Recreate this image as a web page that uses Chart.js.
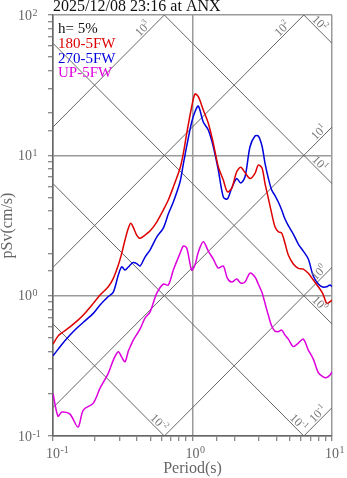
<!DOCTYPE html>
<html>
<head>
<meta charset="utf-8">
<script src="https://cdn.jsdelivr.net/npm/chart.js@4/dist/chart.umd.min.js"></script>
<style>
  html, body { margin: 0; padding: 0; background: #fff; }
  canvas { display: block; }
</style>
</head>
<body>
<canvas id="spectrum" width="347" height="478"></canvas>
<script>
// periods (s) the three spectra were read at
const periods = [0.1, 0.1086, 0.116, 0.1324, 0.1511, 0.1649, 0.1945, 0.2173, 0.249, 0.2706,
  0.2939, 0.3108, 0.3282, 0.3467, 0.3606, 0.3764, 0.398, 0.4205, 0.4566, 0.4958,
  0.5538, 0.6176, 0.6706, 0.7286, 0.8138, 0.8594, 0.9089, 0.9869, 1.042, 1.101,
  1.195, 1.298, 1.41, 1.531, 1.663, 1.777, 1.91, 2.074, 2.216, 2.378,
  2.584, 2.805, 2.963, 3.149, 3.308, 3.494, 3.695, 3.903, 4.122, 4.359,
  4.604, 4.862, 5.281, 5.734, 6.228, 6.764, 7.343, 7.976, 8.576, 9.162,
  9.676, 10];

// pSv (cm/s), h = 5%
const sv180 = [0.452, 0.515, 0.544, 0.600, 0.670, 0.727, 0.881, 1.010, 1.157, 1.328,
  1.653, 2.002, 2.490, 3.017, 3.276, 3.067, 2.704, 2.561, 2.704, 2.887,
  3.346, 4.075, 4.801, 5.944, 8.08, 10.33, 14.35, 22.20, 27.35, 26.17,
  21.03, 16.91, 12.18, 8.29, 6.668, 5.503, 5.818, 7.642, 8.21, 7.542,
  6.833, 7.44, 8.53, 8.12, 6.318, 4.962, 3.861, 3.097, 2.854, 2.794,
  2.360, 1.947, 1.680, 1.565, 1.547, 1.442, 1.292, 1.157, 1.038, 0.881,
  0.905, 0.930];

const sv270 = [0.3728, 0.4143, 0.4503, 0.5238, 0.5972, 0.6462, 0.7477, 0.857, 0.985, 1.061,
  1.402, 1.607, 1.522, 1.599, 1.666, 1.722, 1.694, 1.626, 1.884, 2.113,
  2.617, 3.032, 3.816, 4.646, 6.45, 8.67, 11.65, 17.28, 20.46, 22.46,
  17.28, 15.15, 11.52, 7.86, 5.045, 4.88, 5.847, 6.833, 6.35, 7.004,
  11.52, 13.73, 13.73, 11.65, 8.81, 6.89, 5.657, 5.17, 4.646, 4.075,
  3.516, 3.16, 2.749, 2.332, 2.079, 1.823, 1.379, 1.21, 1.152, 1.157,
  1.19, 1.161];

const svUP = [0.2012, 0.1386, 0.1480, 0.1432, 0.1157, 0.1530, 0.1716, 0.2195, 0.2794, 0.3475,
  0.3982, 0.3650, 0.3380, 0.4028, 0.4408, 0.4826, 0.5281, 0.5781, 0.6923, 0.7640,
  1.038, 1.21, 1.19, 1.522, 2.002, 2.257, 2.184, 1.52, 1.653, 2.046,
  2.422, 2.079, 1.823, 1.573, 1.626, 1.335, 1.250, 1.313, 1.230, 1.250,
  1.449, 1.357, 1.21, 1.052, 0.8858, 0.727, 0.6072, 0.5596, 0.5549, 0.5688,
  0.5238, 0.4906, 0.4337, 0.4594, 0.4906, 0.4096, 0.3532, 0.2831, 0.2651, 0.2608,
  0.2717, 0.2868];

const seriesNames = ["180-5FW", "270-5FW", "UP-5FW"];
const accelLevels = [0.1, 1, 10, 100, 1000];   // gal, rising diagonals
const dispLevels = [0.01, 0.1, 1, 10, 100];    // cm, falling diagonals
const xDecades = [0.1, 1, 10];
const yDecades = [0.1, 1, 10, 100];

const TWO_PI = 2 * Math.PI;
const SERIF = '"Liberation Serif", "Times New Roman", serif';

const toPoints = (vals) => periods.map((t, i) => ({ x: t, y: vals[i] }));
const isDecade = (v) => Math.abs(Math.log10(v) - Math.round(Math.log10(v))) < 1e-6;
const expOf = (v) => String(Math.round(Math.log10(v)));

function curve(label, vals, color) {
  return { label, data: toPoints(vals), borderColor: color, borderWidth: 1.5,
    pointRadius: 0, tension: 0.3, fill: false };
}

function diagonal(points) {
  return { data: points, borderColor: "#666", borderWidth: 1, pointRadius: 0, fill: false };
}

const diagonals = [
  ...accelLevels.map((a) => diagonal([{ x: 0.1, y: a * 0.1 / TWO_PI }, { x: 10, y: a * 10 / TWO_PI }])),
  ...dispLevels.map((d) => diagonal([{ x: 0.1, y: TWO_PI * d / 0.1 }, { x: 10, y: TWO_PI * d / 10 }]))
];

function rotPow(ctx, px, py, angle, exp) {
  ctx.save();
  ctx.translate(px, py);
  ctx.rotate(angle);
  ctx.font = "12px " + SERIF;
  const w1 = ctx.measureText("10").width;
  ctx.font = "8px " + SERIF;
  const w2 = ctx.measureText(exp).width;
  const x0 = -(w1 + w2);
  ctx.font = "12px " + SERIF;
  ctx.fillText("10", x0, -2);
  ctx.font = "8px " + SERIF;
  ctx.fillText(exp, x0 + w1, -7);
  ctx.restore();
}

const textPlugin = {
  id: "texts",
  afterDraw(chart) {
    const ctx = chart.ctx;
    const xs = chart.scales.x, ys = chart.scales.y;
    const px = (t) => xs.getPixelForValue(t), py = (v) => ys.getPixelForValue(v);
    ctx.save();
    ctx.textBaseline = "alphabetic";

    // title and legend
    ctx.fillStyle = "#111";
    ctx.font = "16px " + SERIF;
    ctx.fillText("2025/12/08 23:16 at ANX", 53, 11);
    ctx.font = "15px " + SERIF;
    ctx.fillText("h= 5%", 58, 33);
    chart.data.datasets.slice(0, 3).forEach((ds, i) => {
      ctx.fillStyle = ds.borderColor;
      ctx.fillText(seriesNames[i], 58, 48 + i * 14.7);
    });

    // decade tick labels
    ctx.fillStyle = "#666";
    yDecades.forEach((v) => {
      const y = py(v);
      ctx.font = "14px " + SERIF;
      ctx.fillText("10", 18, y + 4.7);
      const w = ctx.measureText("10").width;
      ctx.font = "10px " + SERIF;
      ctx.fillText(expOf(v), 18 + w + 0.5, y + 0.5);
    });
    xDecades.forEach((t) => {
      const x = px(t);
      ctx.font = "14px " + SERIF;
      const w = ctx.measureText("10").width;
      ctx.fillText("10", x - w / 2, 458);
      ctx.font = "10px " + SERIF;
      ctx.fillText(expOf(t), x + w / 2 + 0.5, 453);
    });

    // axis titles
    ctx.font = "16px " + SERIF;
    ctx.textAlign = "center";
    ctx.fillText("Period(s)", px(1), 473);
    ctx.save();
    ctx.translate(12, (chart.chartArea.top + chart.chartArea.bottom) / 2);
    ctx.rotate(-Math.PI / 2);
    ctx.fillText("pSv(cm/s)", 0, 0);
    ctx.restore();
    ctx.textAlign = "left";

    // diagonal labels
    ctx.fillStyle = "#777";
    accelLevels.forEach((a) => {
      const x1 = px(1), y1 = py(a / TWO_PI), x2 = px(10), y2 = py(a * 10 / TWO_PI);
      const ang = Math.atan2(y2 - y1, x2 - x1);
      const tTop = 100 * TWO_PI / a;
      let ex, ey, back;
      if (tTop <= 10) { ex = px(tTop); ey = py(100); back = 17; }
      else { ex = px(10); ey = py(a * 10 / TWO_PI); back = 5; }
      rotPow(ctx, ex - back * Math.cos(ang), ey - back * Math.sin(ang), ang, expOf(a));
    });
    dispLevels.forEach((d) => {
      const x1 = px(1), y1 = py(TWO_PI * d), x2 = px(10), y2 = py(TWO_PI * d / 10);
      const ang = Math.atan2(y2 - y1, x2 - x1);
      const svRight = TWO_PI * d / 10;
      let ex, ey, back;
      if (svRight >= 0.1) { ex = px(10); ey = py(svRight); back = 15; }
      else { ex = px(TWO_PI * d / 0.1); ey = py(0.1); back = 4; }
      rotPow(ctx, ex - back * Math.cos(ang), ey - back * Math.sin(ang), ang, expOf(d));
    });
    ctx.restore();
  }
};

new Chart(document.getElementById("spectrum"), {
  type: "line",
  data: {
    datasets: [
      curve(seriesNames[0], sv180, "#dd0000"),
      curve(seriesNames[1], sv270, "#0000dd"),
      curve(seriesNames[2], svUP, "#dd00dd"),
      ...diagonals
    ]
  },
  options: {
    responsive: false,
    animation: false,
    devicePixelRatio: 1,
    layout: { padding: { left: 0, top: 15, right: 15, bottom: 0 } },
    plugins: { legend: { display: false }, tooltip: { enabled: false } },
    scales: {
      x: {
        type: "logarithmic", min: 0.1, max: 10, position: "bottom",
        ticks: { display: false },
        grid: {
          color: (c) => (c.tick && isDecade(c.tick.value) ? "#9a9a9a" : "rgba(0,0,0,0)"),
          lineWidth: 1.5, tickColor: "#666", tickWidth: 1, tickLength: 5
        },
        border: { color: "#666", width: 1.5 },
        afterFit: (s) => { s.height = 42; }
      },
      y: {
        type: "logarithmic", min: 0.1, max: 100,
        ticks: { display: false },
        grid: {
          color: (c) => (c.tick && isDecade(c.tick.value) ? "#9a9a9a" : "rgba(0,0,0,0)"),
          lineWidth: 1.5, tickColor: "#666", tickWidth: 1, tickLength: 5
        },
        border: { color: "#666", width: 1.5 },
        afterFit: (s) => { s.width = 53; }
      }
    }
  },
  plugins: [textPlugin]
});
</script>
</body>
</html>
